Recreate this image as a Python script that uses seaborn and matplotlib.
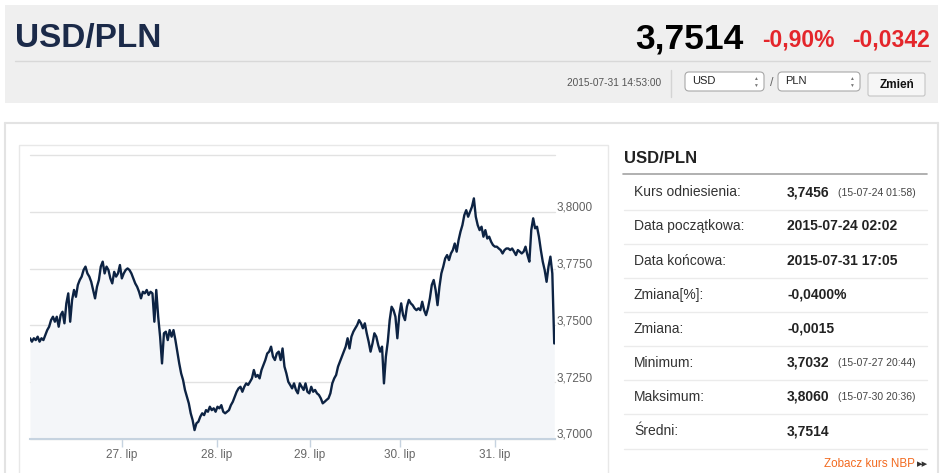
import numpy as np
import pandas as pd
import matplotlib
matplotlib.use('Agg')
import matplotlib.pyplot as plt
import matplotlib.patches as mpatches
import matplotlib.transforms as mtransforms
import seaborn as sns

# USD/PLN quotes 2015-07-24 02:02 .. 2015-07-31 17:05 (evenly spaced on the ordinal axis)
rate = [
    3.7443, 3.7428, 3.7443, 3.7435, 3.7450, 3.7428, 3.7443, 3.7435, 3.7457, 3.7479,
    3.7494, 3.7523, 3.7538, 3.7516, 3.7538, 3.7494, 3.7545, 3.7560, 3.7509, 3.7597,
    3.7641, 3.7516, 3.7612, 3.7656, 3.7626, 3.7678, 3.7700, 3.7715, 3.7744, 3.7759,
    3.7729, 3.7715, 3.7692, 3.7656, 3.7619, 3.7670, 3.7700, 3.7759, 3.7781, 3.7729,
    3.7759, 3.7744, 3.7707, 3.7685, 3.7736, 3.7715, 3.7729, 3.7766, 3.7707, 3.7729,
    3.7744, 3.7751, 3.7744, 3.7729, 3.7707, 3.7685, 3.7670, 3.7648, 3.7619, 3.7648,
    3.7641, 3.7656, 3.7634, 3.7648, 3.7641, 3.7516, 3.7656, 3.7538, 3.7450, 3.7332,
    3.7465, 3.7472, 3.7435, 3.7479, 3.7450, 3.7479, 3.7435, 3.7384, 3.7332, 3.7288,
    3.7259, 3.7215, 3.7185, 3.7156, 3.7112, 3.7082, 3.7038, 3.7068, 3.7075, 3.7097,
    3.7112, 3.7104, 3.7126, 3.7119, 3.7141, 3.7126, 3.7134, 3.7119, 3.7141, 3.7134,
    3.7148, 3.7119, 3.7112, 3.7119, 3.7126, 3.7148, 3.7163, 3.7185, 3.7207, 3.7222,
    3.7229, 3.7207, 3.7229, 3.7244, 3.7237, 3.7251, 3.7266, 3.7303, 3.7273, 3.7281,
    3.7266, 3.7303, 3.7325, 3.7347, 3.7376, 3.7384, 3.7406, 3.7362, 3.7347, 3.7376,
    3.7384, 3.7347, 3.7398, 3.7318, 3.7288, 3.7251, 3.7237, 3.7222, 3.7244, 3.7215,
    3.7200, 3.7244, 3.7229, 3.7215, 3.7244, 3.7207, 3.7200, 3.7229, 3.7207, 3.7215,
    3.7200, 3.7193, 3.7178, 3.7156, 3.7163, 3.7171, 3.7178, 3.7200, 3.7244, 3.7266,
    3.7281, 3.7318, 3.7340, 3.7362, 3.7384, 3.7406, 3.7443, 3.7398, 3.7450, 3.7472,
    3.7487, 3.7501, 3.7523, 3.7509, 3.7487, 3.7509, 3.7465, 3.7428, 3.7384, 3.7420,
    3.7465, 3.7450, 3.7413, 3.7384, 3.7406, 3.7244, 3.7362, 3.7428, 3.7523, 3.7582,
    3.7567, 3.7538, 3.7443, 3.7545, 3.7597, 3.7545, 3.7523, 3.7582, 3.7612, 3.7597,
    3.7589, 3.7575, 3.7567, 3.7575, 3.7567, 3.7604, 3.7567, 3.7545, 3.7575, 3.7619,
    3.7678, 3.7700, 3.7656, 3.7589, 3.7670, 3.7729, 3.7759, 3.7795, 3.7810, 3.7788,
    3.7817, 3.7832, 3.7861, 3.7825, 3.7876, 3.7913, 3.7942, 3.7986, 3.8008, 3.7979,
    3.8001, 3.8023, 3.8060, 3.7979, 3.7942, 3.7920, 3.7935, 3.7891, 3.7920, 3.7883,
    3.7891, 3.7869, 3.7854, 3.7847, 3.7847, 3.7839, 3.7832, 3.7817, 3.7832, 3.7839,
    3.7839, 3.7832, 3.7839, 3.7825, 3.7810, 3.7832, 3.7825, 3.7817, 3.7825, 3.7847,
    3.7810, 3.7781, 3.7920, 3.7972, 3.7928, 3.7935, 3.7891, 3.7832, 3.7781, 3.7744,
    3.7692, 3.7759, 3.7803, 3.7729, 3.7420,
]
day_ticks = [48.0, 97.6, 146.4, 193.2, 243.0]
day_labels = ['27. lip', '28. lip', '29. lip', '30. lip', '31. lip']
y_ticks = [3.7, 3.725, 3.75, 3.775, 3.8, 3.825]
y_labels = ['3,7000', '3,7250', '3,7500', '3,7750', '3,8000', '']

stat_names = ['Kurs odniesienia:', 'Data początkowa:', 'Data końcowa:', 'Zmiana[%]:',
              'Zmiana:', 'Minimum:', 'Maksimum:', 'Średni:']
stat_values = ['3,7456', '2015-07-24 02:02', '2015-07-31 17:05', '-0,0400%',
               '-0,0015', '3,7032', '3,8060', '3,7514']
stat_notes = ['(15-07-24 01:58)', '', '', '', '', '(15-07-27 20:44)', '(15-07-30 20:36)', '']

last_rate = '3,7514'
change_pct = '-0,90%'
change_abs = '-0,0342'
stamp = '2015-07-31 14:53:00'

df = pd.DataFrame({'pos': np.arange(len(rate)), 'rate': rate})

sns.set_theme(style='white')
plt.rcParams['font.family'] = ['Liberation Sans', 'DejaVu Sans']

W, H = 945, 473
fig = plt.figure(figsize=(W / 100, H / 100), dpi=100)
fig.patch.set_facecolor('white')

# pixel overlay for the page furniture
ov = fig.add_axes([0, 0, 1, 1])
ov.set_xlim(0, W)
ov.set_ylim(H, 0)
ov.axis('off')
ov.set_zorder(0)

def rbox(x, y, w, h, fc, ec='none', lw=0, r=0):
    p = mpatches.FancyBboxPatch((x, y), w, h, boxstyle=f'round,pad=0,rounding_size={r}',
                                fc=fc, ec=ec, lw=lw)
    ov.add_patch(p)

# header
rbox(5, 5, 933, 98, '#efefef')
ov.text(15, 47, 'USD/PLN', fontsize=24, fontweight='bold', color='#1b2a49', va='baseline')
ov.text(744, 49, last_rate, fontsize=25.5, fontweight='bold', color='black', ha='right', va='baseline')
ov.text(835, 47, change_pct, fontsize=16.5, fontweight='bold', color='#e4262b', ha='right', va='baseline')
ov.text(930, 47, change_abs, fontsize=16.5, fontweight='bold', color='#e4262b', ha='right', va='baseline')
ov.plot([15, 930], [61, 61], color='#d8d8d8', lw=1)
ov.text(661, 83, stamp, fontsize=7.3, color='#555555', ha='right', va='center')
ov.plot([671, 671], [70, 97], color='#d4d4d4', lw=1)
for x0, w, cur in [(685, 79, 'USD'), (778, 82, 'PLN')]:
    rbox(x0, 72, w, 19, 'white', '#a8a8a8', 0.8, 4)
    ov.text(x0 + 7, 81.5, cur, fontsize=8, color='#222222', va='center')
    ov.text(x0 + w - 9, 79, '▲', fontsize=3.5, color='#777777', ha='center', va='center')
    ov.text(x0 + w - 9, 85, '▼', fontsize=3.5, color='#777777', ha='center', va='center')
ov.text(771.5, 83, '/', fontsize=9, color='#666666', ha='center', va='center')
rbox(868, 73, 57, 23, '#f6f6f6', '#c4c4c4', 0.8, 2)
ov.text(896.5, 85, 'Zmień', fontsize=8.5, fontweight='bold', color='#111111', ha='center', va='center')

# lower panel and chart frame
ov.plot([5, 938], [123, 123], color='#e3e3e3', lw=1.5)
ov.plot([5, 5], [123, H], color='#e3e3e3', lw=1.5)
ov.plot([938, 938], [123, H], color='#e3e3e3', lw=1.5)
ov.add_patch(mpatches.Rectangle((19, 145), 589, 340, fc='white', ec='#e8e8e8', lw=1))

# stats table
ov.text(624, 158, 'USD/PLN', fontsize=12, fontweight='bold', color='#222222', va='center')
ov.plot([623, 927], [174, 174], color='#a3a3a3', lw=1.2)
for i, (name, val, note) in enumerate(zip(stat_names, stat_values, stat_notes)):
    y = 192.3 + i * 34.1
    ov.text(634, y, name, fontsize=10, color='#333333', va='center')
    ov.text(787, y, val, fontsize=10, fontweight='bold', color='#222222', va='center')
    if note:
        ov.text(838, y + 0.5, note, fontsize=7.5, color='#444444', va='center')
    ov.plot([624, 927], [y + 17.5, y + 17.5], color='#ebebeb', lw=1)
ov.text(915, 464, 'Zobacz kurs NBP', fontsize=8.4, color='#f26b21', ha='right', va='center')
ov.text(917, 464.5, '▸▸', fontsize=8, color='#333333', ha='left', va='center',
        family=['DejaVu Sans'])

# the chart itself
ax = fig.add_axes([30 / W, (H - 438.7) / H, 525 / W, (438.7 - 155.3) / H])
ax.set_zorder(1)
ax.patch.set_visible(False)
ax.fill_between(df['pos'], df['rate'], y_ticks[0], color='#f4f6f9', lw=0)
sns.lineplot(data=df, x='pos', y='rate', ax=ax, color='#0d2343', linewidth=1.7)
ax.set_xlim(0, 274.4)
ax.set_ylim(y_ticks[0], y_ticks[-1])
ax.set_xlabel('')
ax.set_ylabel('')
ax.set_yticks(y_ticks)
ax.tick_params(axis='y', length=0, labelleft=False, labelright=False)
ax.grid(True, axis='y', color='#e2e2e2', lw=1)
for gl in ax.get_ygridlines():
    gl.set_clip_on(False)
ax.set_xticks(day_ticks, day_labels)
ax.tick_params(axis='x', bottom=True, direction='out', length=5.8, width=1, color='#c6d3e0',
               labelcolor='#666666', labelsize=8.5, pad=1.5)
for side in ['top', 'right', 'left']:
    ax.spines[side].set_visible(False)
ax.spines['bottom'].set_color('#c6d3e0')
ax.spines['bottom'].set_linewidth(1.5)

lab_tr = mtransforms.blended_transform_factory(ax.transAxes, ax.transData) + \
    mtransforms.ScaledTranslation(2 / 100, 4 / 100, fig.dpi_scale_trans)
for v, lab in zip(y_ticks, y_labels):
    ax.text(1.0, v, lab, transform=lab_tr, fontsize=8.5, color='#606060', ha='left', va='center')

fig.savefig('out.png', dpi=100)
